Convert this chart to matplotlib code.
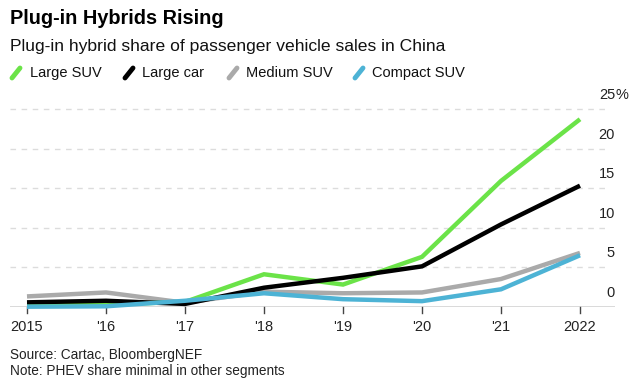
import matplotlib
matplotlib.use("Agg")
import matplotlib.pyplot as plt
from matplotlib.lines import Line2D

plt.rcParams['font.family'] = ['Liberation Sans', 'DejaVu Sans']

# data (share of sales, %)
years = [2015, 2016, 2017, 2018, 2019, 2020, 2021, 2022]
year_labels = ['2015', "'16", "'17", "'18", "'19", "'20", "'21", '2022']
large_suv = [0.2, 0.3, 0.6, 4.1, 2.8, 6.3, 15.9, 23.7]
large_car = [0.55, 0.75, 0.35, 2.4, 3.65, 5.1, 10.4, 15.3]
medium_suv = [1.3, 1.8, 0.5, 1.9, 1.7, 1.8, 3.5, 6.8]
compact_suv = [0.0, 0.05, 0.75, 1.7, 0.95, 0.7, 2.2, 6.5]
y_ticks = [0, 5, 10, 15, 20, 25]

series_names = ['Large SUV', 'Large car', 'Medium SUV', 'Compact SUV']
colors = ['#6be348', '#000000', '#aaaaaa', '#4db3d5']

W, H = 640, 383
fig = plt.figure(figsize=(6.4, 3.83), dpi=100)
# axes: left 10px, right 615px, bottom (baseline) 306.7px, top 100px
ax = fig.add_axes([10 / W, 1 - 306.7 / H, 605 / W, 206.7 / H])
ax.set_xlim(2014.785, 2022.443)
ax.set_ylim(0, 206.7 / 7.91)
ax.axis('off')

# dashed gridlines
for v in y_ticks[1:]:
    ax.axhline(v, xmin=0, xmax=600 / 605, color='#dcdcdc', lw=1,
               dashes=(4, 4), zorder=0)
# baseline + ticks
ax.axhline(0, color='#444444', lw=1, zorder=1)
for yr in years:
    ax.plot([yr, yr], [0, -6 / 7.91], color='#444444', lw=1, clip_on=False)

for yr, lab in zip(years, year_labels):
    ax.text(yr, -20 / 7.91, lab, ha='center', va='center', fontsize=10.5,
            color='#222222')

# y labels on the right, above the gridlines
for v in y_ticks:
    ax.text(2022.443, v + 1.75, str(v), ha='right', va='center',
            fontsize=10.5, color='#222222', clip_on=False)
ax.text(2022.443, y_ticks[-1] + 1.75, '%', ha='left', va='center',
        fontsize=10.5, color='#222222', clip_on=False)

# lines (gray under, blue on top)
data = [large_suv, large_car, medium_suv, compact_suv]
zorders = [3, 4, 2, 5]
for vals, c, z in zip(data, colors, zorders):
    ax.plot(years, vals, color=c, lw=3.2, zorder=z, clip_on=False,
            solid_joinstyle='miter', solid_capstyle='butt')

# titles
fig.text(10 / W, 1 - 18 / H, 'Plug-in Hybrids Rising', fontsize=14.3,
         fontweight='bold', va='center', ha='left')
fig.text(10 / W, 1 - 47 / H,
         'Plug-in hybrid share of passenger vehicle sales in China',
         fontsize=12.6, va='center', ha='left', color='#111111')

# legend
marker_x = [11, 124, 228, 354]
text_x = [30, 142, 246, 372]
ly = 73
for mx, tx, name, c in zip(marker_x, text_x, series_names, colors):
    fig.add_artist(Line2D([(mx + 1) / W, (mx + 9) / W],
                          [1 - (ly + 5) / H, 1 - (ly - 5) / H],
                          color=c, lw=3.5, solid_capstyle='round'))
    fig.text(tx / W, 1 - ly / H, name, fontsize=10.5, va='center',
             ha='left', color='#111111')

fig.text(10 / W, 1 - 355 / H, 'Source: Cartac, BloombergNEF',
         fontsize=9.8, va='center', ha='left', color='#222222')
fig.text(10 / W, 1 - 371 / H, 'Note: PHEV share minimal in other segments',
         fontsize=9.8, va='center', ha='left', color='#222222')

fig.savefig('out.png', dpi=100)
